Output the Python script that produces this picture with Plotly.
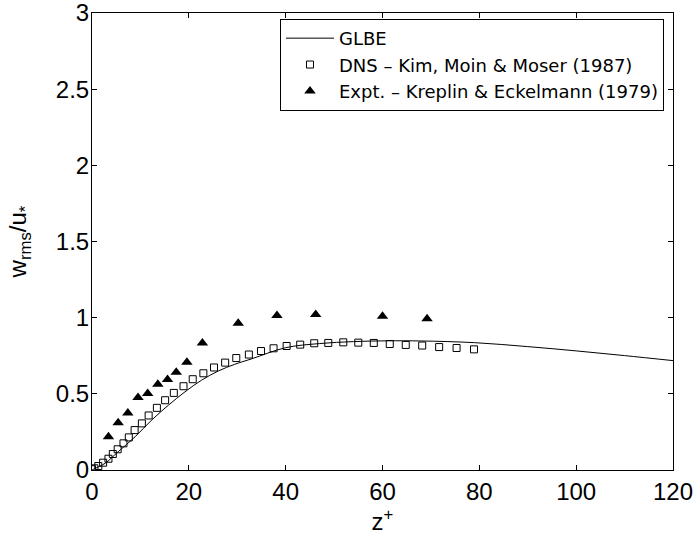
import plotly.graph_objects as go

# GLBE curve
glbe_x = [0, 0.7, 2.7, 5.4, 8.9, 12.3, 15.8, 19.2, 22.6, 26.1, 29.5, 33, 40, 47, 54, 61, 68, 79, 90, 100, 110, 120]
glbe_y = [0, 0.011, 0.044, 0.12, 0.218, 0.327, 0.426, 0.513, 0.589, 0.65, 0.694, 0.73, 0.803, 0.83, 0.843, 0.848, 0.847, 0.836, 0.81, 0.782, 0.751, 0.718]

# DNS - Kim, Moin & Moser (1987)
dns_x = [0, 0.5, 1.3, 2.3, 3.4, 4.3, 5.3, 6.5, 7.6, 8.8, 10.3, 11.7, 13.4, 15.1, 16.9, 18.9, 20.8, 23.0, 25.2, 27.5,
         29.8, 32.4, 34.9, 37.5, 40.2, 43.0, 45.9, 48.8, 51.9, 55.0, 58.2, 61.5, 64.8, 68.2, 71.7, 75.3, 78.9]
dns_y = [0.005, 0.011, 0.026, 0.048, 0.074, 0.105, 0.136, 0.175, 0.214, 0.262, 0.306, 0.358, 0.408, 0.458, 0.506, 0.55,
         0.596, 0.635, 0.673, 0.705, 0.735, 0.758, 0.781, 0.799, 0.814, 0.823, 0.832, 0.834, 0.838, 0.836, 0.834, 0.827,
         0.821, 0.817, 0.807, 0.801, 0.792]

# Expt. - Kreplin & Eckelmann (1979)
exp_x = [3.4, 5.4, 7.4, 9.5, 11.5, 13.6, 15.6, 17.4, 19.6, 22.8, 30.2, 38.2, 46.2, 60.0, 69.2]
exp_y = [0.219, 0.31, 0.375, 0.476, 0.502, 0.563, 0.594, 0.642, 0.707, 0.833, 0.963, 1.015, 1.02, 1.01, 0.993]

x_ticks = [0, 20, 40, 60, 80, 100, 120]
y_ticks = [0, 0.5, 1, 1.5, 2, 2.5, 3]
y_tick_text = ["0", "0.5", "1", "1.5", "2", "2.5", "3"]

FONT = "Liberation Sans, Arial, sans-serif"

fig = go.Figure()
fig.add_trace(go.Scatter(x=glbe_x, y=glbe_y, mode="lines", name="GLBE",
                         line=dict(color="black", width=1), line_shape="spline"))
fig.add_trace(go.Scatter(x=dns_x, y=dns_y, mode="markers", name="DNS – Kim, Moin &amp; Moser (1987)",
                         marker=dict(symbol="square-open", size=7, color="black", line=dict(width=1))))
fig.add_trace(go.Scatter(x=exp_x, y=exp_y, mode="markers", name="Expt. – Kreplin &amp; Eckelmann (1979)",
                         marker=dict(symbol="triangle-up", size=10, color="black")))

axis_common = dict(showgrid=False, zeroline=False, showline=True, linecolor="black", linewidth=1,
                   mirror="ticks", ticks="inside", ticklen=5, tickcolor="black", automargin=False,
                   ticklabeloverflow="allow",
                   tickfont=dict(family=FONT, size=24, color="black"))

fig.update_xaxes(range=[0, 120], tickvals=x_ticks, ticklabelstandoff=0,
                 title=dict(text="z<sup>+</sup>", standoff=0,
                            font=dict(family=FONT, size=24, color="black")),
                 **axis_common)
fig.update_yaxes(range=[0, 3], tickvals=y_ticks, ticktext=y_tick_text, ticklabelstandoff=-3,
                 **axis_common)

fig.add_annotation(text="w<sub>rms</sub>/u<sub>*</sub>", xref="paper", yref="paper",
                   x=-0.124, y=0.5, xanchor="center", yanchor="middle", textangle=-90,
                   showarrow=False, font=dict(family=FONT, size=24, color="black"))

fig.update_layout(
    width=695, height=540,
    margin=dict(l=92, r=22, t=13, b=70, autoexpand=False),
    plot_bgcolor="white", paper_bgcolor="white",
    font=dict(family=FONT, color="black"),
    legend=dict(x=0.9845, y=0.987, xanchor="right", yanchor="top",
                bordercolor="black", borderwidth=1, bgcolor="white",
                font=dict(size=18, family="DejaVu Sans, Liberation Sans, sans-serif", color="black"),
                tracegroupgap=0, itemwidth=48),
)

fig.write_html("out.html", config={"displayModeBar": False},
               post_script="document.body.style.margin='0';document.body.style.overflow='hidden';")
